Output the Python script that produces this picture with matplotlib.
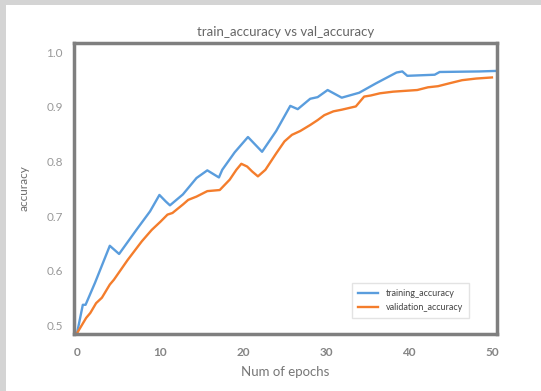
import matplotlib.pyplot as plt
from matplotlib.patches import Rectangle

plt.rcParams['font.family'] = ['Lato', 'DejaVu Sans']

train_epochs = [0, 0.7, 1.03, 2.16, 3.95, 5.07, 7.15, 8.8, 9.93, 10.7, 11.2, 12.76,
                14.4, 15.7, 17.1, 17.5, 19.0, 20.6, 22.3, 24.0, 25.7, 26.6, 28.1,
                29.0, 30.2, 31.9, 34.0, 36.0, 38.5, 39.2, 39.8, 43.1, 43.7, 48.5, 50.6]
train_acc = [0.486, 0.538, 0.538, 0.578, 0.646, 0.631, 0.675, 0.709, 0.739, 0.727,
             0.720, 0.740, 0.770, 0.784, 0.771, 0.785, 0.817, 0.845, 0.818, 0.856,
             0.902, 0.896, 0.915, 0.918, 0.931, 0.917, 0.926, 0.943, 0.963, 0.965,
             0.957, 0.959, 0.964, 0.965, 0.966]

val_epochs = [0, 1.1, 1.6, 2.3, 3.0, 3.95, 4.45, 6.1, 7.8, 9.0, 10.05, 10.9, 11.5,
              12.8, 13.4, 14.4, 15.7, 17.2, 18.4, 19.2, 19.8, 20.5, 21.1, 21.8, 22.7,
              24.0, 25.0, 25.9, 26.9, 28.1, 29.0, 29.8, 30.9, 31.9, 33.6, 34.6, 35.4,
              36.5, 38.1, 41.0, 42.3, 43.5, 44.8, 46.4, 48.1, 50.0]
val_acc = [0.486, 0.514, 0.523, 0.541, 0.551, 0.575, 0.584, 0.620, 0.654, 0.675,
           0.690, 0.703, 0.706, 0.722, 0.730, 0.736, 0.746, 0.748, 0.767, 0.785,
           0.796, 0.791, 0.782, 0.773, 0.785, 0.815, 0.837, 0.849, 0.856, 0.867,
           0.876, 0.885, 0.892, 0.895, 0.901, 0.919, 0.921, 0.925, 0.928, 0.931,
           0.936, 0.938, 0.943, 0.949, 0.952, 0.954]

fig = plt.figure(figsize=(5.41, 3.91), dpi=100)
# screenshot shadow on the top / left edges
fig.add_artist(Rectangle((0, 0), 6 / 541, 1, transform=fig.transFigure, color='#d4d4d4', lw=0))
fig.add_artist(Rectangle((0, 1 - 5 / 391), 1, 5 / 391, transform=fig.transFigure, color='#d4d4d4', lw=0))

ax = fig.add_axes([0.137, 0.145, 0.7815, 0.7458])
ax.plot(train_epochs, train_acc, color='#5a9ddd', lw=1.7, label='training_accuracy')
ax.plot(val_epochs, val_acc, color='#f47d2c', lw=1.7, label='validation_accuracy')

ax.set_xlim(-0.35, 50.6)
ax.set_ylim(0.484, 1.0176)
ax.set_xticks([0, 10, 20, 30, 40, 50])
ax.set_yticks([0.5, 0.6, 0.7, 0.8, 0.9, 1.0])
ax.tick_params(length=0, labelsize=8.5)
ax.tick_params(axis='x', pad=9, labelcolor='#858585')
ax.tick_params(axis='y', pad=8, labelcolor='#999999')
for lab in ax.get_xticklabels():
    lab.set_fontweight('bold')

for s in ax.spines.values():
    s.set_color('#7f7f7f')
    s.set_linewidth(2.5)

ax.set_title('train_accuracy vs val_accuracy', fontsize=9.5, color='#666666', pad=5)
ax.set_xlabel('Num of epochs', fontsize=9.5, color='#777777', labelpad=6)
ax.set_ylabel('accuracy', fontsize=8.5, color='#6e6e6e', labelpad=12)

leg = ax.legend(loc='lower right', fontsize=6.5, frameon=True, borderpad=0.7,
                handlelength=2.2, bbox_to_anchor=(0.945, 0.04), fancybox=False)
leg.get_frame().set_edgecolor('#dddddd')
for t in leg.get_texts():
    t.set_color('#444444')

plt.savefig('out.png', dpi=100)
